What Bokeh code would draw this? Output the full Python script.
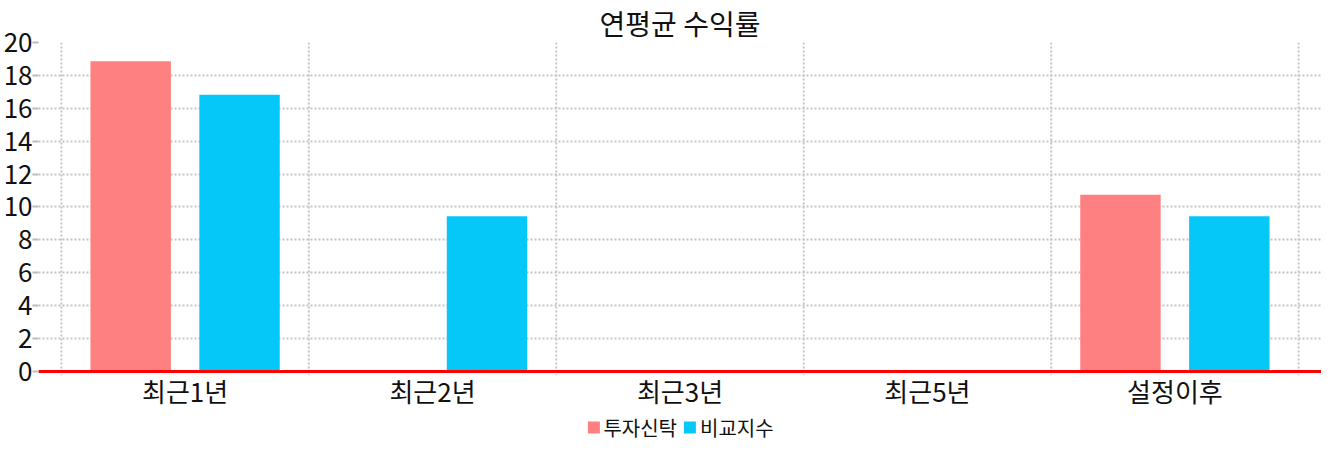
from bokeh.plotting import figure
from bokeh.layouts import column
from bokeh.models import ColumnDataSource, FactorRange, Span, Legend, LegendItem, Title, SingleIntervalTicker
from bokeh.transform import dodge
from bokeh.embed import file_html
from bokeh.resources import INLINE

categories = ["최근1년", "최근2년", "최근3년", "최근5년", "설정이후"]
fund = [18.86, float("nan"), float("nan"), float("nan"), 10.74]
bench = [16.82, 9.43, float("nan"), float("nan"), 9.43]
series_names = ["투자신탁", "비교지수"]
title_text = "연평균 수익률"

FONT = "Noto Sans CJK KR"
RED = "#FF8080"
BLUE = "#06C8F8"
GRID = "#C4C4C4"
W = 1321

src = ColumnDataSource(dict(cat=categories, fund=fund, bench=bench))

p = figure(x_range=FactorRange(*categories, range_padding=0.037),
           y_range=(-0.25, 20), width=W, height=411,
           output_backend="svg", toolbar_location=None,
           min_border_left=0, min_border_right=0, min_border_top=0, min_border_bottom=0)
p.outline_line_color = None
p.background_fill_color = "white"

t = Title(text=title_text, align="center", text_font=FONT, text_font_size="28px",
          text_font_style="normal", text_color="#111111", standoff=0)
p.title = t

r1 = p.vbar(x=dodge("cat", -0.22, range=p.x_range), top="fund", width=0.325,
            source=src, color=RED, line_color=None)
r2 = p.vbar(x=dodge("cat", 0.22, range=p.x_range), top="bench", width=0.325,
            source=src, color=BLUE, line_color=None)

# grids
p.xgrid.visible = False
p.ygrid.grid_line_color = GRID
p.ygrid.grid_line_dash = "2 2"
p.ygrid.grid_line_width = 2
p.yaxis.ticker = SingleIntervalTicker(interval=2)
for i in range(len(categories) + 1):
    p.add_layout(Span(location=i, dimension="height", line_color=GRID,
                      line_dash="2 2", line_width=2, level="underlay"))

p.add_layout(Span(location=0, dimension="width", line_color="#FF0000", line_width=3))

# axes
p.yaxis.axis_line_color = None
p.yaxis.major_tick_line_color = "#BBBBBB"
p.yaxis.major_tick_line_width = 2
p.yaxis.major_tick_out = 6
p.yaxis.major_tick_in = 0
p.yaxis.minor_tick_line_color = None
p.yaxis.major_label_text_font = FONT
p.yaxis.major_label_text_font_size = "26px"
p.yaxis.major_label_text_color = "#111111"
p.yaxis.major_label_standoff = 0

p.xaxis.axis_line_color = None
p.xaxis.major_tick_line_color = None
p.xaxis.minor_tick_line_color = None
p.xaxis.major_label_text_font = FONT
p.xaxis.major_label_text_font_size = "26px"
p.xaxis.major_label_text_color = "#111111"
p.xaxis.major_label_standoff = -10

# legend strip
p2 = figure(width=W, height=32, x_range=(0, 1), y_range=(0, 1),
            output_backend="svg", toolbar_location=None,
            min_border_left=0, min_border_right=0, min_border_top=0, min_border_bottom=0)
p2.axis.visible = False
p2.grid.visible = False
p2.outline_line_color = None
swatch = ColumnDataSource(dict(x=[-10], top=[-10]))
l1 = p2.vbar(x="x", top="top", width=0.1, source=swatch, color=RED, line_color=None)
l2 = p2.vbar(x="x", top="top", width=0.1, source=swatch, color=BLUE, line_color=None)
legend = Legend(items=[LegendItem(label=series_names[0], renderers=[l1]),
                       LegendItem(label=series_names[1], renderers=[l2])],
                orientation="horizontal", location="center",
                label_text_font=FONT, label_text_font_size="20px",
                label_text_color="#111111", background_fill_alpha=0,
                glyph_width=15, glyph_height=15, label_standoff=3, spacing=5,
                padding=0, margin=0, border_line_color=None,
                label_height=20)
p2.add_layout(legend)

open("out.html", "w").write(file_html(column(p, p2, spacing=0), INLINE))
